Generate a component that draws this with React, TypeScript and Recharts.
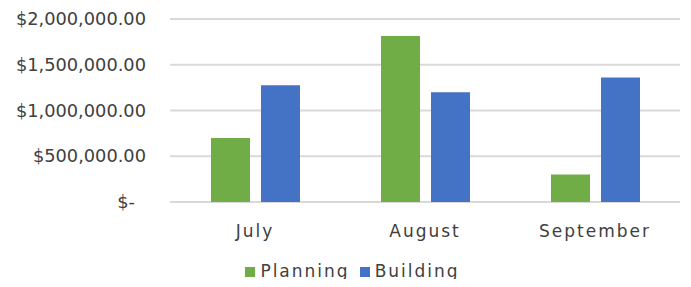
import { BarChart, Bar, XAxis, YAxis, CartesianGrid, Legend } from 'recharts'

const months = ['July', 'August', 'September']
const planning = [700000, 1815000, 300000]
const building = [1275000, 1200000, 1360000]
const yTicks = [0, 500000, 1000000, 1500000, 2000000]
const seriesOrder = ['Planning', 'Building']

const data = months.map((month, i) => ({ month, Planning: planning[i], Building: building[i] }))

const textColor = '#404040'
const font = '"DejaVu Sans", sans-serif'

function money(v: number) {
  if (v === 0) return '$-'
  return '$' + v.toLocaleString('en-US', { minimumFractionDigits: 2, maximumFractionDigits: 2 })
}

function YTick(props: any) {
  const { x, y, payload } = props
  const v = payload.value as number
  return (
    <text
      x={v === 0 ? x - 33 : x - 22}
      y={y}
      dy="0.35em"
      textAnchor="end"
      fill={textColor}
      fontFamily={font}
      fontSize={17.8}
    >
      {money(v)}
    </text>
  )
}

export default function App() {
  return (
    <div style={{ position: 'relative', margin: -8, width: 691, height: 287, background: '#fff' }}>
      <div style={{ position: 'absolute', left: 1, top: 0, width: 5, height: 287, background: '#183f7c' }} />
      <BarChart
        width={691}
        height={287}
        data={data}
        margin={{ top: 19, right: 11, left: 0, bottom: 0 }}
        barSize={39}
        barGap={11}
      >
        <CartesianGrid vertical={false} stroke="#d9d9d9" strokeWidth={2} />
        <XAxis
          dataKey="month"
          height={55}
          axisLine={false}
          tickLine={false}
          tickSize={0}
          tickMargin={23}
          tick={{ fill: textColor, fontFamily: font, fontSize: 17, letterSpacing: 2 }}
        />
        <YAxis
          width={170}
          domain={[0, 2000000]}
          ticks={yTicks}
          axisLine={false}
          tickLine={false}
          tickSize={0}
          tick={<YTick />}
          interval={0}
        />
        <Legend
          verticalAlign="bottom"
          iconType="square"
          iconSize={10}
          itemSorter={(item: any) => seriesOrder.indexOf(item.value)}
          formatter={(value: string) => (
            <span style={{ color: textColor, letterSpacing: 2, marginLeft: 1 }}>{value}</span>
          )}
          wrapperStyle={{
            top: 259,
            left: 0,
            width: 691,
            height: 30,
            bottom: 'auto',
            fontFamily: font,
            fontSize: 17,
            lineHeight: '24px',
            paddingLeft: 12,
          }}
        />
        <Bar dataKey="Planning" fill="#70ad47" isAnimationActive={false} />
        <Bar dataKey="Building" fill="#4472c4" isAnimationActive={false} />
      </BarChart>
    </div>
  )
}
